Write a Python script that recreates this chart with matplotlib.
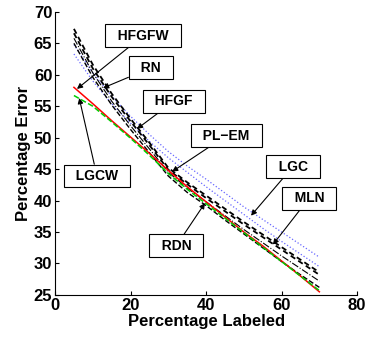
import numpy as np
from matplotlib import pyplot as plt

plt.rcParams['font.family'] = ['Liberation Sans', 'DejaVu Sans']
plt.rcParams['font.weight'] = 'bold'

# percentage of labeled nodes
pct_labeled = [5, 10, 15, 20, 25, 30, 35, 40, 45, 50, 55, 60, 65, 70]

# percentage error per method
err_red = [58.0, 55.4, 52.7, 50.1, 47.5, 44.8, 42.2, 39.8, 37.4, 35.0, 32.8, 30.4, 28.0, 25.5]
err_green = [56.7, 55.0, 52.5, 49.9, 47.2, 44.3, 41.8, 39.5, 37.2, 34.9, 32.6, 30.3, 28.0, 25.7]
err_blk1 = [67.3, 61.6, 57.0, 53.0, 49.2, 45.2, 42.9, 40.8, 38.7, 36.6, 34.6, 32.6, 30.6, 28.6]
err_blk2 = [66.6, 61.0, 56.5, 52.6, 48.8, 44.9, 42.6, 40.4, 38.3, 36.2, 34.2, 32.2, 30.2, 28.2]
err_blk3 = [65.8, 60.3, 55.8, 51.9, 48.2, 44.5, 42.0, 39.8, 37.6, 35.4, 33.3, 31.2, 29.2, 27.2]
err_blk4 = [65.0, 59.6, 55.2, 51.3, 47.6, 43.9, 41.3, 39.2, 36.9, 34.7, 32.5, 30.3, 28.2, 26.2]
err_blue1 = [64.8, 60.3, 56.6, 53.4, 50.5, 47.8, 45.5, 43.4, 41.2, 39.0, 37.0, 35.0, 33.0, 31.0]
err_blue2 = [63.3, 59.0, 55.4, 52.3, 49.4, 46.8, 44.5, 42.2, 40.0, 37.8, 35.6, 33.5, 31.5, 29.5]

# label text, box centre, arrow tip
labels = ['HFGFW', 'RN', 'HFGF', 'PL\u2212EM', 'LGC', 'MLN', 'RDN', 'LGCW']
label_pos = [(23.3, 66.2), (25.4, 61.1), (31.5, 55.8), (45.3, 50.3),
             (63.0, 45.4), (67.3, 40.4), (32.1, 32.8), (11.1, 43.9)]
arrow_tip = [(5.8, 57.75), (12.7, 57.9), (21.7, 51.4), (31.0, 44.6),
             (51.9, 37.6), (57.7, 33.0), (39.7, 39.6), (6.4, 56.3)]

fig = plt.figure(figsize=(3.72, 3.39), dpi=100)
ax = fig.add_axes([0.148, 0.13, 0.812, 0.835])

ax.plot(pct_labeled, err_blue1, color='blue', ls=':', lw=0.9, alpha=0.6)
ax.plot(pct_labeled, err_blue2, color='blue', ls=':', lw=0.9, alpha=0.6)
ax.plot(pct_labeled, err_blk1, color='black', ls=(0, (3, 2)), lw=1.3)
ax.plot(pct_labeled, err_blk2, color='black', ls=(0, (3, 2)), lw=1.3)
ax.plot(pct_labeled, err_blk3, color='black', ls='-.', lw=0.8)
ax.plot(pct_labeled, err_blk4, color='black', ls='--', lw=1.0)
ax.plot(pct_labeled, err_red, color='red', ls='-', lw=1.1)
ax.plot(pct_labeled, err_green, color='#00cc00', ls='--', lw=1.1)

for txt, pos, tip in zip(labels, label_pos, arrow_tip):
    ax.annotate('  ' + txt + '  ', xy=tip, xytext=pos, ha='center', va='center',
                fontsize=10, fontweight='bold',
                bbox=dict(boxstyle='square,pad=0.32', fc='white', ec='black', lw=0.8),
                arrowprops=dict(arrowstyle='-|>', color='black', lw=0.8,
                                mutation_scale=8, shrinkA=0, shrinkB=0))

ax.set_xlim(0, 80)
ax.set_ylim(25, 70)
ax.set_xticks([0, 20, 40, 60, 80])
ax.set_yticks(np.arange(25, 71, 5))
ax.tick_params(direction='in', length=3, labelsize=12, pad=2)
for lab in ax.get_xticklabels() + ax.get_yticklabels():
    lab.set_fontweight('bold')
ax.spines['top'].set_visible(False)
ax.spines['right'].set_visible(False)
ax.set_xlabel('Percentage Labeled', fontsize=12, fontweight='bold', labelpad=1)
ax.set_ylabel('Percentage Error', fontsize=12, fontweight='bold', labelpad=2)

fig.savefig('out.png', dpi=100)
